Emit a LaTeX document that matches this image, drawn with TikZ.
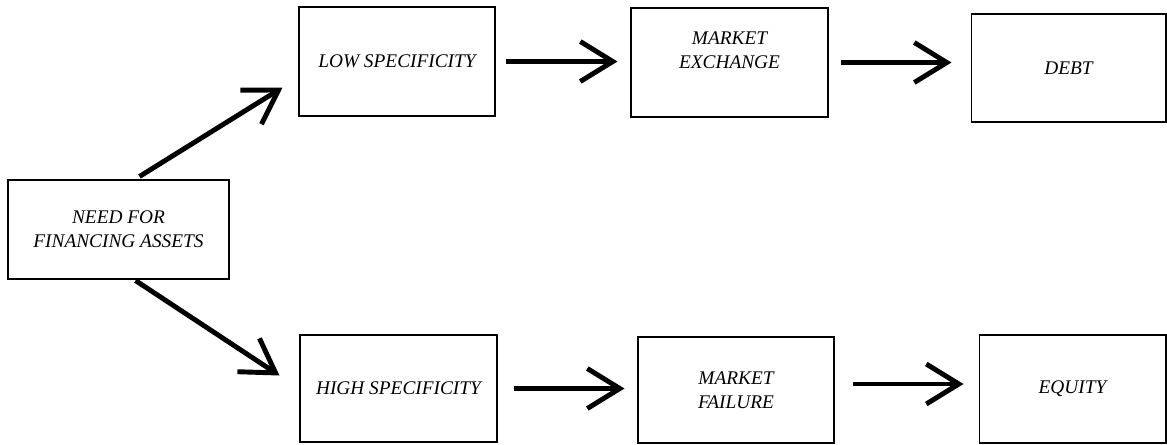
\documentclass[tikz,border=0pt]{standalone}
\usepackage{fontspec}
\setmainfont{Liberation Serif}
\usetikzlibrary{arrows.meta,positioning,calc}

\begin{document}
\begin{tikzpicture}[x=0.02cm,y=-0.02cm,
  box/.style={draw=black,line width=0.6pt,align=center,inner sep=2pt,
    font=\fontsize{11}{13.6}\selectfont\itshape},
  conn/.style={black,line width=2.8pt,-{Straight Barb[length=6.5mm,width=8mm]}}]
\useasboundingbox (0,0) rectangle (1167,444);
\node[box,minimum width=4.42cm,minimum height=1.98cm] (need) at (118.5,229.5) {NEED FOR\\FINANCING ASSETS};
\node[box,minimum width=3.92cm,minimum height=2.18cm] (low) at (397,61.5) {LOW SPECIFICITY};
\node[box,minimum width=3.94cm,minimum height=2.18cm] (mex) at (729.5,62.5) {MARKET\\EXCHANGE\\~};
\node[box,minimum width=3.90cm,minimum height=2.16cm] (debt) at (1068.5,68) {DEBT};
\node[box,minimum width=3.94cm,minimum height=2.14cm] (high) at (398.5,388.5) {HIGH SPECIFICITY};
\node[box,minimum width=3.92cm,minimum height=2.12cm] (mfail) at (736,390) {MARKET\\FAILURE};
\node[box,minimum width=3.74cm,minimum height=2.16cm] (equity) at (1072.5,389) {EQUITY};
\draw[conn] ([shift={(21,-3)}]need.north) -- ([shift={(-16,26)}]low.west);
\draw[conn] ([shift={(17,1)}]need.south) -- ([shift={(-20,-13)}]high.west);
\draw[conn,shorten <=0.2cm,shorten >=0.26cm] (low.east) -- (low.east -| mex.west);
\draw[conn,shorten <=0.24cm,shorten >=0.38cm] (mex.east) -- (mex.east -| debt.west);
\draw[conn,shorten <=0.32cm,shorten >=0.26cm] (high.east) -- (high.east -| mfail.west);
\draw[conn,shorten <=0.36cm,shorten >=0.3cm] ([yshift=0.12cm]mfail.east) -- ([yshift=0.12cm]mfail.east -| equity.west);
\end{tikzpicture}
\end{document}
